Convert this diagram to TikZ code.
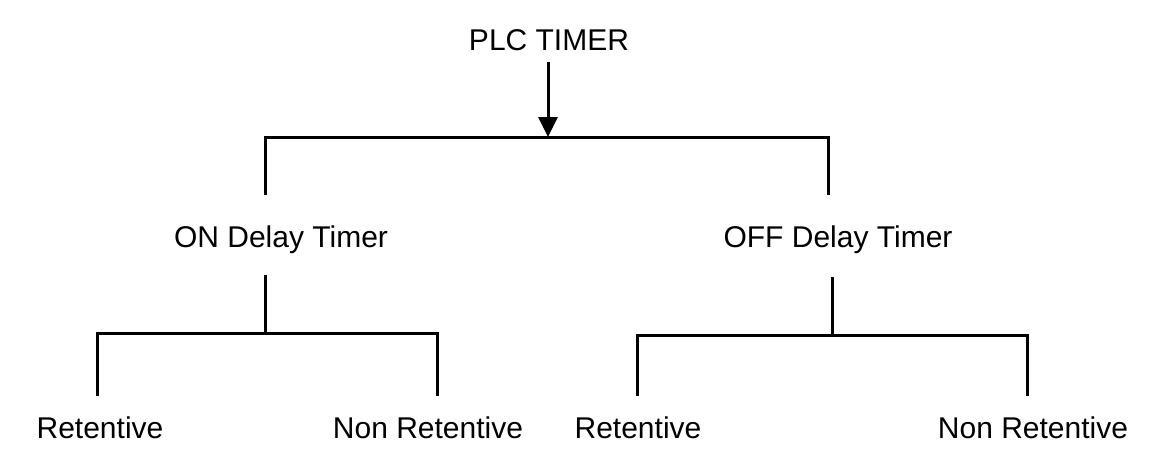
\documentclass[tikz,border=0pt]{standalone}
\usepackage{fontspec}
\setmainfont{Liberation Sans}
\usetikzlibrary{arrows.meta}
\begin{document}
\begin{tikzpicture}[x=1pt,y=-1pt,
  lbl/.style={anchor=base,inner sep=0pt,font=\fontsize{30}{35}\selectfont},
  ln/.style={line width=3pt,black},
  arr/.style={ln,-{Triangle[width=19pt,length=20pt]}}]
\fill[white] (0,0) rectangle (1156,463);
\useasboundingbox (0,0) rectangle (1156,463);
% labels
\node[lbl] (plc) at (549,50) {PLC TIMER};
\node[lbl] (on) at (281,247) {ON Delay Timer};
\node[lbl] (off) at (838,247) {OFF Delay Timer};
\node[lbl] (r1) at (100,438) {Retentive};
\node[lbl] (n1) at (428,438) {Non Retentive};
\node[lbl] (r2) at (638,438) {Retentive};
\node[lbl] (n2) at (1033,438) {Non Retentive};
% junction coordinates
\coordinate (top) at (548,137);
\coordinate (onup) at (265,195);
\coordinate (offup) at (828,195);
\coordinate (onlow) at (265,275);
\coordinate (onbar) at (265,333);
\coordinate (offlow) at (832,277);
\coordinate (offbar) at (832,335);
\coordinate (r1up) at (97,396);
\coordinate (n1up) at (437,396);
\coordinate (r2up) at (637,396);
\coordinate (n2up) at (1027,396);
% connectors
\draw[arr] ([yshift=-12pt]plc.south -| top) -- (top);
\draw[ln] (onup) -- (onup |- top) -- (offup |- top) -- (offup);
\draw[ln] (onlow) -- (onbar);
\draw[ln] (r1up) -- (r1up |- onbar) -- (n1up |- onbar) -- (n1up);
\draw[ln] (offlow) -- (offbar);
\draw[ln] (r2up) -- (r2up |- offbar) -- (n2up |- offbar) -- (n2up);
\end{tikzpicture}
\end{document}
